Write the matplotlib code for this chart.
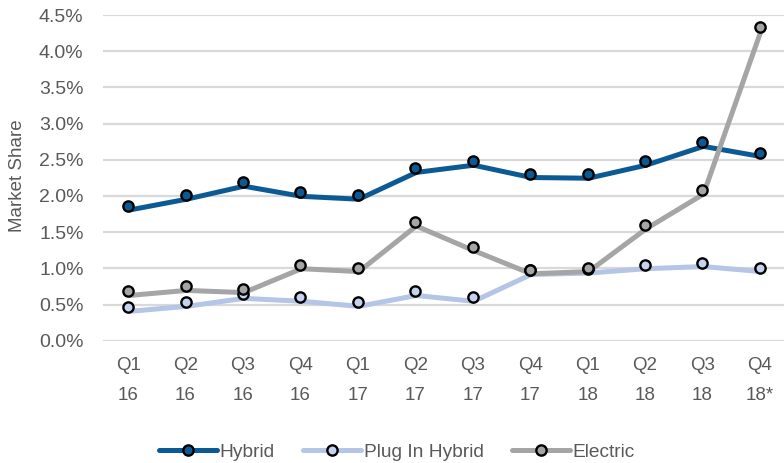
import matplotlib
matplotlib.use("Agg")
import matplotlib.pyplot as plt
import matplotlib.transforms as mtransforms
from matplotlib.ticker import FuncFormatter, MultipleLocator
from matplotlib.lines import Line2D

plt.rcParams['font.family'] = ['Liberation Sans', 'DejaVu Sans']

categories = ["Q1\n16", "Q2\n16", "Q3\n16", "Q4\n16", "Q1\n17", "Q2\n17",
              "Q3\n17", "Q4\n17", "Q1\n18", "Q2\n18", "Q3\n18", "Q4\n18*"]
hybrid = [1.86, 2.01, 2.19, 2.05, 2.01, 2.38, 2.48, 2.31, 2.30, 2.48, 2.74, 2.60]
plug_in_hybrid = [0.46, 0.53, 0.64, 0.60, 0.53, 0.68, 0.60, 0.97, 0.99, 1.05, 1.08, 1.01]
electric = [0.68, 0.75, 0.72, 1.05, 1.01, 1.64, 1.30, 0.98, 1.01, 1.60, 2.08, 4.33]

series = [
    ("Hybrid", hybrid, "#0B5A94", "#0B5A94"),
    ("Plug In Hybrid", plug_in_hybrid, "#B4C5E6", "#C5D3EE"),
    ("Electric", electric, "#A5A5A5", "#A5A5A5"),
]

text_color = "#595959"

fig = plt.figure(figsize=(7.84, 4.63), dpi=100)
ax = fig.add_axes([103/784, 1 - 340.7/463, 681/784, (340.7 - 15)/463])

x = list(range(len(categories)))
line_tr = mtransforms.offset_copy(ax.transData, fig=fig, x=1, y=-4, units='dots')

handles = []
for name, vals, lc, fc in series:
    ax.plot(x, vals, color=lc, lw=3.6, solid_capstyle='butt', transform=line_tr, zorder=3)
    ax.plot(x, vals, ls='none', marker='o', ms=7.4, mfc=fc, mec='black', mew=1.7, zorder=4)
    handles.append(Line2D([], [], color=lc, lw=3.6, marker='o', ms=7.4, mfc=fc,
                          mec='black', mew=1.7, solid_capstyle='round'))

ax.set_xlim(-0.437, 11.42)
ax.set_ylim(0, 4.5)
ax.yaxis.set_major_locator(MultipleLocator(0.5))
ax.yaxis.set_major_formatter(FuncFormatter(lambda v, p: f"{v:.1f}%"))
ax.set_xticks(x)
ax.set_xticklabels(categories, linespacing=1.95)
ax.grid(axis='y', color='#D9D9D9', lw=1.6, zorder=0)
ax.set_axisbelow(True)
for s in ax.spines.values():
    s.set_visible(False)
ax.tick_params(axis='both', length=0, colors=text_color)
ax.tick_params(axis='y', labelsize=14, pad=14)
ax.tick_params(axis='x', labelsize=13.5, pad=12)
for lab in ax.get_xticklabels():
    lab.set_color(text_color)

fig.text(17.5/784, 1 - 176/463, "Market Share", rotation=90, ha='center', va='center',
         fontsize=13.5, color=text_color)

leg = fig.legend(handles=handles, labels=[s[0] for s in series], loc='center',
                 bbox_to_anchor=(397/784, 1 - 452/463), ncol=3, frameon=False,
                 fontsize=13.8, handlelength=3.0, handletextpad=0.15, columnspacing=1.5,
                 numpoints=1)
for t in leg.get_texts():
    t.set_color(text_color)

fig.savefig("out.png", dpi=100)
